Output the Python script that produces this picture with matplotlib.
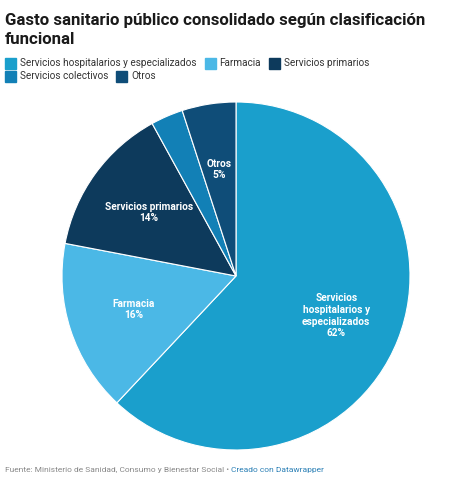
import matplotlib
matplotlib.use('Agg')
import matplotlib.pyplot as plt
from matplotlib.patches import Rectangle

# datos
categorias = ['Servicios hospitalarios y especializados', 'Farmacia',
              'Servicios primarios', 'Servicios colectivos', 'Otros']
etiquetas = ['Servicios\nhospitalarios y\nespecializados', 'Farmacia',
             'Servicios primarios', '', 'Otros']
valores = [62, 16, 14, 3, 5]
colores = ['#1a9fcc', '#4bb8e6', '#0d3a5c', '#1280b6', '#0f4d78']

plt.rcParams['font.family'] = ['Roboto', 'DejaVu Sans']

W, H = 474, 484
fig = plt.figure(figsize=(W / 100, H / 100), dpi=100)

# titulo
fig.text(5 / W, 1 - 20 / H, 'Gasto sanitario público consolidado según clasificación',
         fontsize=12.2, fontweight='bold', color='#1a1a1a', va='center', ha='left')
fig.text(5 / W, 1 - 40 / H, 'funcional',
         fontsize=12.2, fontweight='bold', color='#1a1a1a', va='center', ha='left')

# leyenda (flujo manual)
fig.canvas.draw()
renderer = fig.canvas.get_renderer()
filas = [[0, 1, 2], [3, 4]]
ys = [63, 76]
for fila, y in zip(filas, ys):
    x = 5
    for i in fila:
        fig.patches.append(Rectangle((x / W, 1 - (y + 5.5) / H), 11 / W, 11 / H,
                                     transform=fig.transFigure, color=colores[i]))
        t = fig.text((x + 15) / W, 1 - y / H, categorias[i], fontsize=7.2,
                     color='#333333', va='center', ha='left')
        bb = t.get_window_extent(renderer)
        x = x + 15 + bb.width + 8

# tarta
ax = fig.add_axes([62 / W, 1 - 450 / H, 348 / W, 348 / H])
wedges, textos = ax.pie(valores, colors=colores, startangle=90, counterclock=False,
                        labels=[f'{e}\n{v}%' if e else '' for e, v in zip(etiquetas, valores)],
                        labeldistance=0.62,
                        wedgeprops=dict(edgecolor='white', linewidth=0.8),
                        textprops=dict(color='white', fontsize=7.3, fontweight='bold'))
for t in textos:
    t.set_ha('center')
    t.set_va('center')
    t.set_multialignment('center')
ax.set_xlim(-1, 1)
ax.set_ylim(-1, 1)
ax.set_aspect('equal')

# pie de pagina
t = fig.text(5 / W, 1 - 470 / H, 'Fuente: Ministerio de Sanidad, Consumo y Bienestar Social • ',
             fontsize=6.0, color='#888888', va='center', ha='left')
bb = t.get_window_extent(renderer)
fig.text((5 + bb.width) / W, 1 - 470 / H, 'Creado con Datawrapper',
         fontsize=6.0, color='#2a7fb5', va='center', ha='left')

fig.savefig('out.png', dpi=100, facecolor='white')
